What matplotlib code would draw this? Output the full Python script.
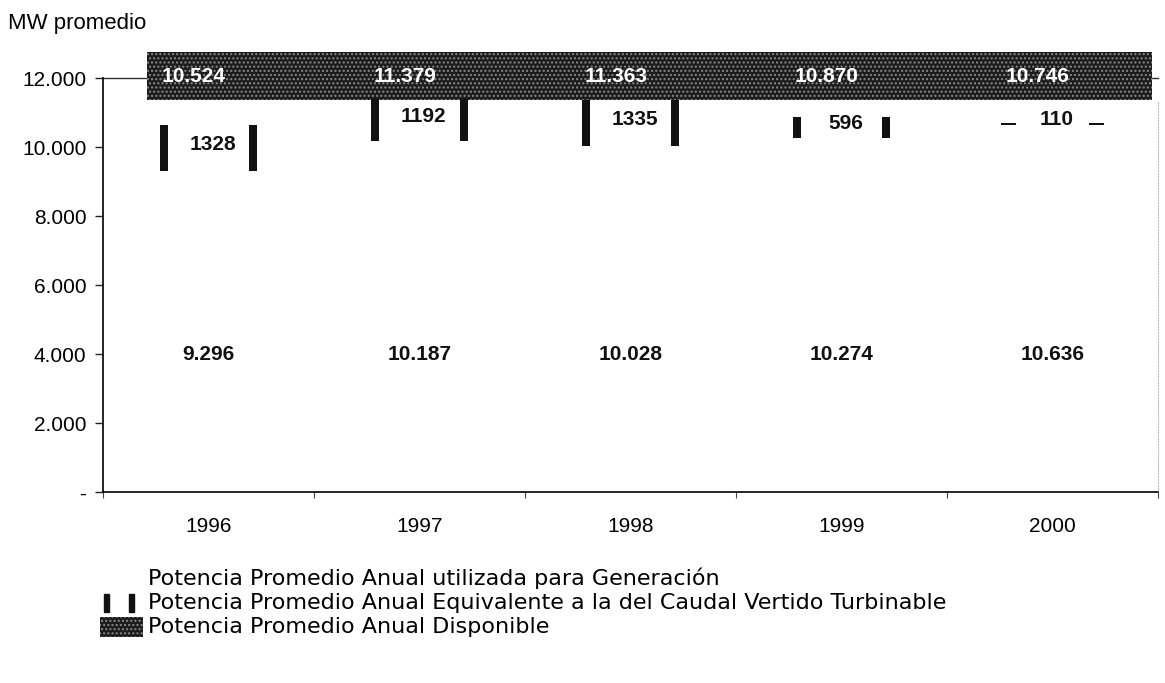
import numpy as np
import matplotlib
matplotlib.use('Agg')
import matplotlib.pyplot as plt
from matplotlib.patches import Rectangle

plt.rcParams['font.family'] = ['Liberation Sans', 'DejaVu Sans']

# data
years = ['1996', '1997', '1998', '1999', '2000']
generacion = [9296, 10187, 10028, 10274, 10636]
vertido = [1328, 1192, 1335, 596, 110]
disponible = [10524, 11379, 11363, 10870, 10746]
yticks = [0, 2000, 4000, 6000, 8000, 10000, 12000]

legend_labels = [
    'Potencia Promedio Anual utilizada para Generación',
    'Potencia Promedio Anual Equivalente a la del Caudal Vertido Turbinable',
    'Potencia Promedio Anual Disponible',
]


def fmt_miles(v):
    if v == 0:
        return '-'
    return f'{v:,.0f}'.replace(',', '.')


fig = plt.figure(figsize=(11.65, 6.83), dpi=100)
ax = fig.add_axes([0.0884, 0.2796, 0.9056, 0.6466])

x = np.arange(len(years))
bar_w = 0.46
mark_w = 0.04

# generation bars (white in the original, invisible on the scan)
ax.bar(x, generacion, width=bar_w, color='white', edgecolor='none', zorder=1)

# vertido segment drawn as two dark edge markers on top of generation
for side in (-1, 1):
    xs = x + side * (bar_w / 2 - mark_w / 2)
    w = [mark_w if v > 200 else 0.07 for v in vertido]
    h = [v if v > 200 else 60 for v in vertido]
    ax.bar(xs, h, bottom=generacion, width=w, color='#111111',
           edgecolor='none', zorder=3)

# "disponible" band along the top
band_lo, band_hi = 11350, 12750
ax.fill_between([x[0] - 0.29, x[-1] + 0.47], band_lo, band_hi,
                facecolor='#1c1c1c', edgecolor='#8a8a8a', hatch='....',
                linewidth=0, zorder=2)
for xi, v in zip(x, disponible):
    ax.text(xi - 0.07, 12050, fmt_miles(v), ha='center', va='center',
            color='white', fontsize=15, fontweight='bold', zorder=4)

# value labels
for xi, g, v in zip(x, generacion, vertido):
    ax.text(xi, 4000, fmt_miles(g), ha='center', va='center',
            fontsize=15, fontweight='bold', color='#111111')
    ax.text(xi + 0.02, g + v / 2 + 100, str(v), ha='center', va='center',
            fontsize=15, fontweight='bold', color='#111111')

ax.set_xlim(-0.5, len(years) - 0.5)
ax.set_ylim(0, 12800)

ax.set_yticks(yticks)
ax.set_yticklabels([fmt_miles(v) for v in yticks], fontsize=15)
ax.tick_params(axis='y', length=6, width=1, pad=6, color='#222222')

ax.set_xticks(x)
ax.set_xticklabels(years, fontsize=15)
ax.tick_params(axis='x', length=0, pad=18)
ax.set_xticks(np.arange(len(years) + 1) - 0.5, minor=True)
ax.tick_params(axis='x', which='minor', length=4, width=0.8, color='#444444')

ax.spines['top'].set_visible(False)
ax.spines['left'].set_bounds(0, 12000)
ax.spines['right'].set_bounds(0, 11300)
ax.spines['right'].set_color('#bbbbbb')
ax.spines['right'].set_linestyle(':')
ax.spines['left'].set_linewidth(1.2)
ax.spines['bottom'].set_linewidth(1.2)
ax.plot([-0.5, x[-1] + 0.5], [12000, 12000], color='#333333', lw=1,
        zorder=1.5, clip_on=False)

fig.text(0.007, 0.965, 'MW promedio', fontsize=16, ha='left', va='center')

# legend, drawn by hand
leg_y = [1 - 578 / 683, 1 - 603 / 683, 1 - 627 / 683]
for y, lab in zip(leg_y, legend_labels):
    fig.text(148 / 1165, y, lab, fontsize=16, ha='left', va='center',
             family=['DejaVu Sans'])
for lx in (104, 129):
    fig.patches.append(Rectangle((lx / 1165, leg_y[1] - 0.013), 5 / 1165, 0.026,
                                 transform=fig.transFigure, color='#111111'))
fig.patches.append(Rectangle((100 / 1165, leg_y[2] - 0.014), 43 / 1165, 0.028,
                             transform=fig.transFigure, facecolor='#1c1c1c',
                             edgecolor='#8a8a8a', hatch='....', linewidth=0))

fig.savefig('out.png', dpi=100)
